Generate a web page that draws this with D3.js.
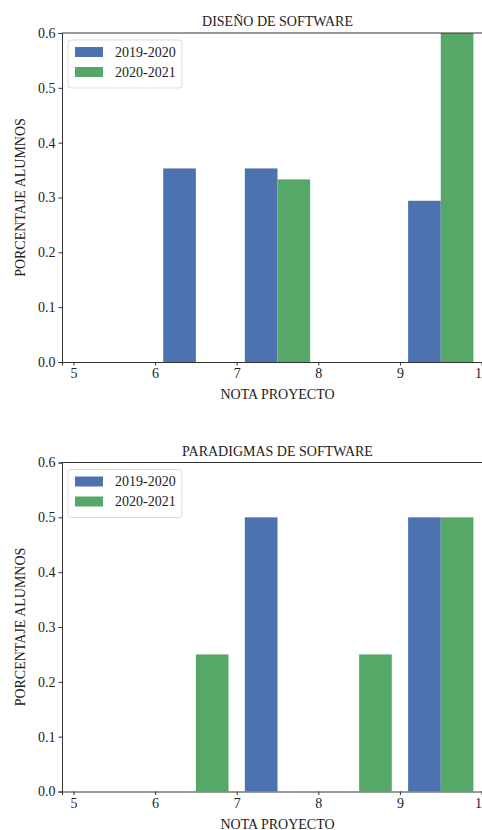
<!DOCTYPE html>
<html>
<head>
<meta charset="utf-8">
<script src="https://cdn.jsdelivr.net/npm/d3@7"></script>
<style>
  body { margin: 0; background: #fff; }
  svg { display: block; font-family: "Liberation Serif", "DejaVu Serif", serif; }
</style>
</head>
<body>
<div id="chart"></div>
<script>
// histogram bins (left edge of each 1-point bin)
const bins = [5, 6, 7, 8, 9];
const xTicks = [5, 6, 7, 8, 9, 10];
const yTicks = [0, 0.1, 0.2, 0.3, 0.4, 0.5, 0.6];
const seriesLabels = ["2019-2020", "2020-2021"];

// share of students per bin
const disenoA = [0, 0.353, 0.353, 0, 0.294];
const disenoB = [0, 0, 0.333, 0, 0.667];
const paradigmasA = [0, 0, 0.5, 0, 0.5];
const paradigmasB = [0, 0.25, 0, 0.25, 0.5];

const colors = ["#4c72b0", "#55a868"];
const W = 482, H = 830;

const svg = d3.select("#chart").append("svg")
  .attr("width", W).attr("height", H);

const panels = [
  { title: "DISEÑO DE SOFTWARE", series: [disenoA, disenoB], top: 33, bottom: 362 },
  { title: "PARADIGMAS DE SOFTWARE", series: [paradigmasA, paradigmasB], top: 462.5, bottom: 791.5 }
];

const left = 62, right = 493;
const x = d3.scaleLinear().domain([4.86, 10.14]).range([left, right]);

panels.forEach((p, pi) => {
  const y = d3.scaleLinear().domain([0, 0.6]).range([p.bottom, p.top]);
  const g = svg.append("g");

  g.append("clipPath").attr("id", "clip" + pi)
    .append("rect")
    .attr("x", left).attr("y", p.top)
    .attr("width", right - left).attr("height", p.bottom - p.top);

  // bars, side by side inside each bin
  const barW = 0.4;
  p.series.forEach((vals, si) => {
    g.append("g").attr("clip-path", `url(#clip${pi})`)
      .selectAll("rect")
      .data(bins.map((b, i) => ({ b, v: vals[i] })).filter(d => d.v > 0))
      .join("rect")
      .attr("x", d => x(d.b + 0.1 + si * barW))
      .attr("width", d => x(d.b + 0.1 + (si + 1) * barW) - x(d.b + 0.1 + si * barW))
      .attr("y", d => y(d.v))
      .attr("height", d => y(0) - y(d.v))
      .attr("fill", colors[si]);
  });

  // x axis
  const xa = g.append("g")
    .attr("transform", `translate(0,${p.bottom})`)
    .call(d3.axisBottom(x).tickValues(xTicks).tickFormat(d3.format("d")).tickSize(3.5).tickPadding(3));
  // y axis
  const ya = g.append("g")
    .attr("transform", `translate(${left},0)`)
    .call(d3.axisLeft(y).tickValues(yTicks).tickFormat(d3.format(".1f")).tickSize(3.5).tickPadding(3));

  [xa, ya].forEach(a => {
    a.select(".domain").attr("stroke", "#333").attr("stroke-width", 1);
    a.selectAll(".tick line").attr("stroke", "#333");
    a.selectAll(".tick text")
      .attr("fill", "#222")
      .style("font-family", "Liberation Serif, serif")
      .style("font-size", "14px");
  });

  // top spine
  g.append("line")
    .attr("x1", left).attr("x2", right)
    .attr("y1", p.top).attr("y2", p.top)
    .attr("stroke", "#333");

  // title
  g.append("text")
    .attr("x", (left + right) / 2).attr("y", p.top - 7)
    .attr("text-anchor", "middle")
    .attr("fill", "#222")
    .style("font-size", "14px")
    .text(p.title);

  // axis labels
  g.append("text")
    .attr("x", (left + right) / 2).attr("y", p.bottom + 37)
    .attr("text-anchor", "middle")
    .attr("fill", "#222")
    .style("font-size", "14px")
    .text("NOTA PROYECTO");

  g.append("text")
    .attr("transform", `translate(25,${(p.top + p.bottom) / 2}) rotate(-90)`)
    .attr("text-anchor", "middle")
    .attr("fill", "#222")
    .style("font-size", "14px")
    .text("PORCENTAJE ALUMNOS");

  // legend
  const lg = g.append("g").attr("transform", `translate(${left + 6},${p.top + 7})`);
  lg.append("rect")
    .attr("width", 114).attr("height", 48)
    .attr("rx", 3)
    .attr("fill", "#fff").attr("fill-opacity", 0.8)
    .attr("stroke", "#ddd");
  seriesLabels.forEach((lab, i) => {
    lg.append("rect")
      .attr("x", 7).attr("y", 7 + i * 20)
      .attr("width", 28).attr("height", 10)
      .attr("fill", colors[i]);
    lg.append("text")
      .attr("x", 47).attr("y", 12 + i * 20)
      .attr("dy", "0.35em")
      .attr("fill", "#222")
      .style("font-size", "14px")
      .text(lab);
  });
});
</script>
</body>
</html>
